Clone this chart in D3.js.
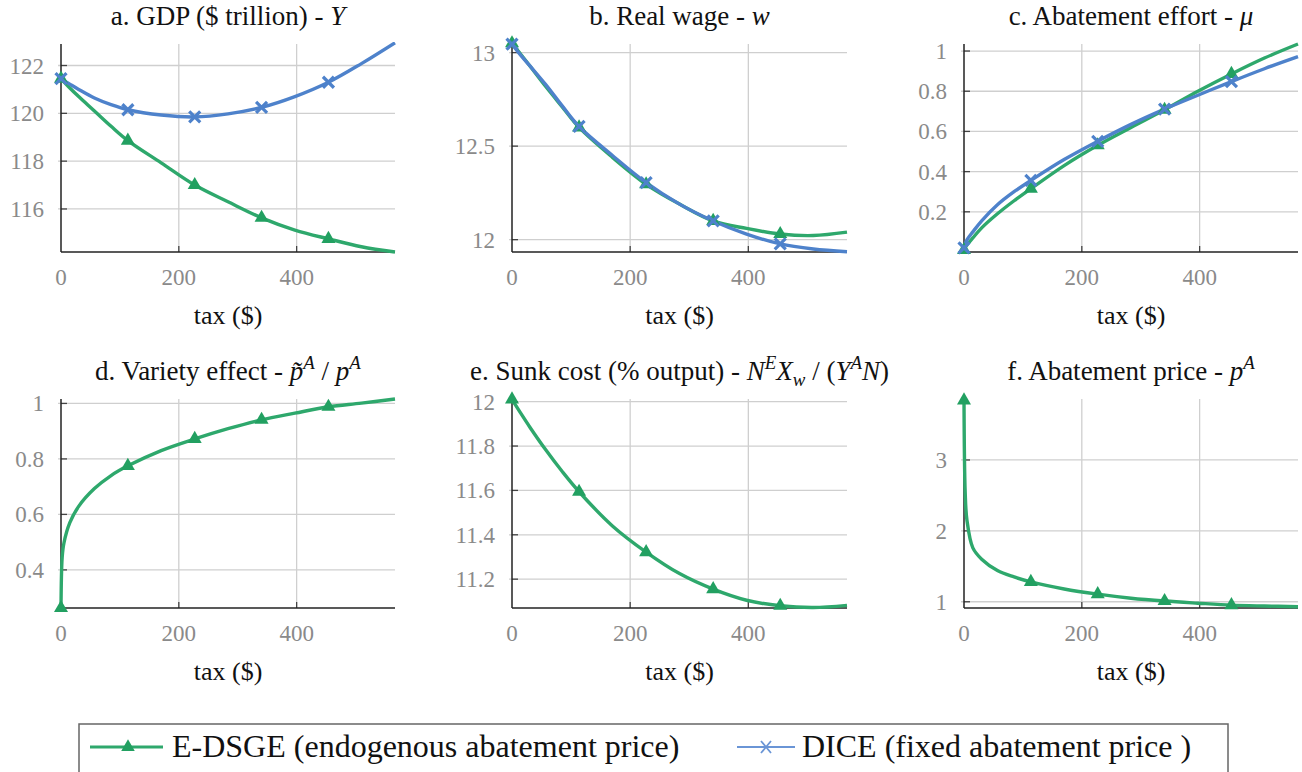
<!DOCTYPE html>
<html><head><meta charset="utf-8">
<script src="https://cdn.jsdelivr.net/npm/d3@7/dist/d3.min.js"></script>
</head>
<body style="margin:0">
<svg id="chart" width="1302" height="772"></svg>
<script>
// ---- data ----
const tax = [0, 2, 5, 15, 30, 56.75, 85, 113.5, 170, 227, 283.5, 340.5, 397, 454, 510, 567];
const markerTax = [0, 113.5, 227, 340.5, 454];
const xTicks = [0, 200, 400];

const gdpEDSGE  = [121.45, 121.40, 121.32, 121.06, 120.70, 120.10, 119.46, 118.86, 117.93, 117.00, 116.30, 115.63, 115.12, 114.75, 114.42, 114.20];
const gdpDICE   = [121.45, 121.42, 121.37, 121.22, 121.00, 120.64, 120.36, 120.15, 119.93, 119.85, 119.98, 120.25, 120.70, 121.30, 122.08, 122.95];
const wageEDSGE = [13.05, 13.042, 13.03, 12.99, 12.93, 12.82, 12.71, 12.60, 12.44, 12.296, 12.19, 12.10, 12.06, 12.03, 12.022, 12.04];
const wageDICE  = [13.045, 13.038, 13.025, 12.985, 12.93, 12.83, 12.715, 12.605, 12.45, 12.305, 12.19, 12.10, 12.03, 11.977, 11.95, 11.935];
const muEDSGE   = [0.01, 0.022, 0.035, 0.07, 0.12, 0.19, 0.255, 0.315, 0.43, 0.531, 0.62, 0.708, 0.80, 0.886, 0.965, 1.035];
const muDICE    = [0.02, 0.04, 0.06, 0.10, 0.155, 0.235, 0.30, 0.356, 0.46, 0.551, 0.635, 0.711, 0.78, 0.848, 0.912, 0.972];
const varietyEDSGE = [0.2626, 0.445, 0.497, 0.57, 0.629, 0.693, 0.74, 0.775, 0.83, 0.872, 0.909, 0.941, 0.965, 0.988, 1.001, 1.016];
const sunkEDSGE  = [12.01, 12.001, 11.989, 11.947, 11.886, 11.784, 11.685, 11.594, 11.44, 11.322, 11.225, 11.155, 11.105, 11.08, 11.072, 11.082];
const priceEDSGE = [3.84, 2.55, 2.15, 1.76, 1.60, 1.44, 1.35, 1.28, 1.18, 1.107, 1.05, 1.01, 0.98, 0.953, 0.94, 0.93];

const yTicksA = [116, 118, 120, 122];
const yTicksB = [12, 12.5, 13];
const yTicksC = [0.2, 0.4, 0.6, 0.8, 1];
const yTicksD = [0.4, 0.6, 0.8, 1];
const yTicksE = [11.2, 11.4, 11.6, 11.8, 12];
const yTicksF = [1, 2, 3];

const legendLabels = ["E-DSGE (endogenous abatement price)", "DICE (fixed abatement price )"];

// ---- styling / layout ----
const GREEN = "#2ea86c", GREEN_DARK = "#22a061", BLUE = "#4e82cb";
const cols = [[61, 395], [512, 847], [964, 1298]];
const rows = [[44, 252], [399, 608]];

const panels = [
  {col:0,row:0, ydom:[114.2,122.9], yt:yTicksA, title:[["a. GDP ($ trillion) - ","n"],["Y","i"]], series:[{v:gdpEDSGE,k:"g"},{v:gdpDICE,k:"b"}]},
  {col:1,row:0, ydom:[11.934,13.046], yt:yTicksB, title:[["b. Real wage - ","n"],["w","i"]], series:[{v:wageEDSGE,k:"g"},{v:wageDICE,k:"b"}]},
  {col:2,row:0, ydom:[0,1.035], yt:yTicksC, title:[["c. Abatement effort - ","n"],["\u03bc","i"]], series:[{v:muEDSGE,k:"g"},{v:muDICE,k:"b"}]},
  {col:0,row:1, ydom:[0.2626,1.016], yt:yTicksD, title:[["d. Variety effect - ","n"],["p\u0303","i"],["A","sup"],[" / ","n"],["p","i"],["A","sup"]], series:[{v:varietyEDSGE,k:"g"}]},
  {col:1,row:1, ydom:[11.07,12.012], yt:yTicksE, title:[["e. Sunk cost (% output) - ","n"],["N","i"],["E","sup"],["X","i"],["w","sub"],[" / (","n"],["Y","i"],["A","sup"],["N","i"],[")","n"]], series:[{v:sunkEDSGE,k:"g"}]},
  {col:2,row:1, ydom:[0.912,3.86], yt:yTicksF, title:[["f. Abatement price - ","n"],["p","i"],["A","sup"]], series:[{v:priceEDSGE,k:"g"}]}
];

const svg = d3.select("#chart");
const defs = svg.append("defs");

function drawTitle(g, parts, x, y, size) {
  const t = g.append("text").attr("x", x).attr("y", y).attr("text-anchor", "middle")
    .attr("font-size", size).attr("fill", "#111");
  let cur = 0;
  parts.forEach(([txt, st]) => {
    let off = 0, fs = size, italic = false;
    if (st === "i") italic = true;
    if (st === "sup") { off = -0.42 * size; fs = size * 0.7; italic = true; }
    if (st === "sub") { off = 0.22 * size; fs = size * 0.7; italic = true; }
    const ts = t.append("tspan").attr("dy", off - cur).attr("font-size", fs).text(txt);
    if (italic) ts.attr("font-style", "italic");
    cur = off;
  });
}

panels.forEach((p, i) => {
  const [x0, x1] = cols[p.col], [y0, y1] = rows[p.row];
  const x = d3.scaleLinear().domain([0, 567]).range([x0, x1]);
  const y = d3.scaleLinear().domain(p.ydom).range([y1, y0]);
  const g = svg.append("g");

  defs.append("clipPath").attr("id", "clip" + i).append("rect")
    .attr("x", x0 - 2).attr("y", y0 - 2).attr("width", x1 - x0 + 4).attr("height", y1 - y0 + 4);

  // grid
  g.selectAll(".vg").data(xTicks.filter(d => d > 0)).join("line")
    .attr("x1", d => x(d)).attr("x2", d => x(d)).attr("y1", y0).attr("y2", y1)
    .attr("stroke", "#cfcfcf").attr("stroke-width", 1.3);
  g.selectAll(".hg").data(p.yt).join("line")
    .attr("x1", x0 - 3).attr("x2", x1).attr("y1", d => y(d)).attr("y2", d => y(d))
    .attr("stroke", "#cfcfcf").attr("stroke-width", 1.3);

  // tick marks (inside)
  g.selectAll(".xt").data(xTicks.filter(d => d > 0)).join("line")
    .attr("x1", d => x(d)).attr("x2", d => x(d)).attr("y1", y1).attr("y2", y1 - 6)
    .attr("stroke", "#444").attr("stroke-width", 1.3);
  g.selectAll(".yt").data(p.yt).join("line")
    .attr("x1", x0).attr("x2", x0 + 6).attr("y1", d => y(d)).attr("y2", d => y(d))
    .attr("stroke", "#444").attr("stroke-width", 1.3);

  // axis lines
  g.append("line").attr("x1", x0).attr("x2", x0).attr("y1", y0).attr("y2", y1).attr("stroke", "#222").attr("stroke-width", 1.5);
  g.append("line").attr("x1", x0).attr("x2", x1).attr("y1", y1).attr("y2", y1).attr("stroke", "#222").attr("stroke-width", 1.5);

  // tick labels
  g.selectAll(".xl").data(xTicks).join("text")
    .attr("x", d => x(d)).attr("y", y1 + 33).attr("text-anchor", "middle")
    .attr("font-size", 23).attr("fill", "#8a8a8a").text(d => d);
  g.selectAll(".yl").data(p.yt).join("text")
    .attr("x", x0 - 17).attr("y", d => y(d) + 8).attr("text-anchor", "end")
    .attr("font-size", 23).attr("fill", "#8a8a8a").text(d => d);

  // x label
  g.append("text").attr("x", (x0 + x1) / 2).attr("y", y1 + 72).attr("text-anchor", "middle")
    .attr("font-size", 26).attr("fill", "#111").text("tax ($)");

  // title
  drawTitle(g, p.title, (x0 + x1) / 2, p.row === 0 ? 25 : 380, 27);

  // lines
  const line = d3.line().x((d, j) => x(tax[j])).y(d => y(d)).curve(d3.curveCatmullRom.alpha(0.5));
  p.series.forEach(s => {
    g.append("path").attr("d", line(s.v)).attr("fill", "none")
      .attr("stroke", s.k === "g" ? GREEN : BLUE).attr("stroke-width", 3.4)
      .attr("clip-path", `url(#clip${i})`);
  });
  p.series.forEach(s => {
    const pts = markerTax.map(t => [x(t), y(s.v[tax.indexOf(t)])]);
    if (s.k === "g") {
      g.selectAll(null).data(pts).join("path")
        .attr("transform", d => `translate(${d[0]},${d[1]})`)
        .attr("d", d3.symbol().type(d3.symbolTriangle).size(85)())
        .attr("fill", GREEN_DARK);
    } else {
      g.selectAll(null).data(pts).join("path")
        .attr("transform", d => `translate(${d[0]},${d[1]})`)
        .attr("d", "M-5.5,-5.5L5.5,5.5M-5.5,5.5L5.5,-5.5")
        .attr("stroke", BLUE).attr("stroke-width", 3.2).attr("fill", "none");
    }
  });
});

// ---- legend ----
const lg = svg.append("g");
lg.append("rect").attr("x", 79).attr("y", 724).attr("width", 1149).attr("height", 70)
  .attr("fill", "none").attr("stroke", "#666").attr("stroke-width", 1.5);
const ly = 747;
lg.append("line").attr("x1", 90).attr("x2", 163).attr("y1", ly).attr("y2", ly).attr("stroke", GREEN).attr("stroke-width", 3);
lg.append("path").attr("transform", `translate(128,${ly})`).attr("d", d3.symbol().type(d3.symbolTriangle).size(80)()).attr("fill", GREEN_DARK);
lg.append("text").attr("x", 172).attr("y", 757).attr("font-size", 32).attr("fill", "#111").text(legendLabels[0]);
lg.append("line").attr("x1", 737).attr("x2", 795).attr("y1", ly).attr("y2", ly).attr("stroke", "#6a95d6").attr("stroke-width", 2);
lg.append("path").attr("transform", `translate(766,${ly})`).attr("d", "M-5,-6L5,6M-5,6L5,-6").attr("stroke", "#6a95d6").attr("stroke-width", 1.8).attr("fill", "none");
lg.append("text").attr("x", 802).attr("y", 757).attr("font-size", 32).attr("fill", "#111").text(legendLabels[1]);
</script>
</body></html>
